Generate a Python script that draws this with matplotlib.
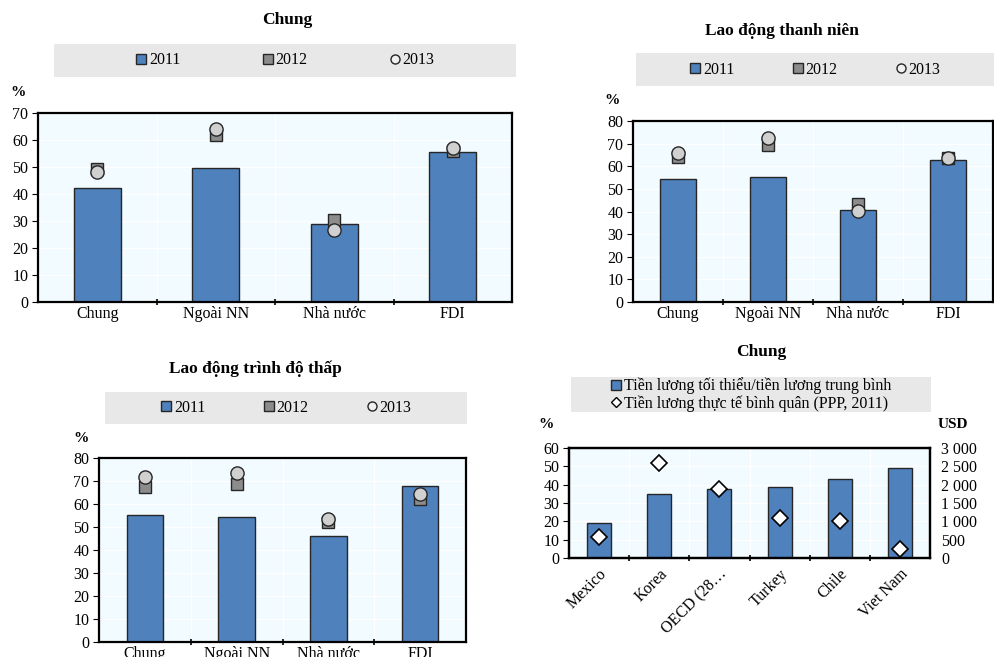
import matplotlib
matplotlib.use("Agg")
import matplotlib.pyplot as plt
from matplotlib.patches import Rectangle
from matplotlib.lines import Line2D
from matplotlib.ticker import FuncFormatter
import numpy as np

plt.rcParams['font.family'] = ['Liberation Serif', 'DejaVu Serif']

categories = ['Chung', 'Ngoài NN', 'Nhà nước', 'FDI']
chung2011 = [42.2, 49.6, 28.9, 55.4]
chung2012 = [49.2, 61.7, 30.4, 56.0]
chung2013 = [48.0, 64.0, 26.6, 57.2]
thanhNien2011 = [54.2, 55.1, 40.6, 62.9]
thanhNien2012 = [64.2, 69.4, 43.2, 63.8]
thanhNien2013 = [65.7, 72.6, 40.4, 63.6]
trinhDoThap2011 = [55.1, 54.4, 46.3, 67.9]
trinhDoThap2012 = [67.6, 68.8, 52.0, 62.1]
trinhDoThap2013 = [71.7, 73.5, 53.4, 64.4]

countries = ['Mexico', 'Korea', 'OECD (28…', 'Turkey', 'Chile', 'Viet Nam']
minToAvg = [19.2, 34.7, 37.8, 38.5, 43.0, 49.2]
realWagePPP = [570, 2585, 1870, 1100, 1020, 235]

years = ['2011', '2012', '2013']

W, H = 994, 657
barColor = '#4F81BD'
edgeColor = '#262626'
axBg = '#F2FBFF'
boxColor = '#E8E8E8'
tickSize = 11.5
titleSize = 12.5

fig = plt.figure(figsize=(W / 100, H / 100), dpi=100)


def pxAxes(x0, y0, x1, y1):
    return fig.add_axes([x0 / W, 1 - y1 / H, (x1 - x0) / W, (y1 - y0) / H])


def pxBox(x0, y0, x1, y1):
    fig.patches.append(Rectangle((x0 / W, 1 - y1 / H), (x1 - x0) / W,
                                 (y1 - y0) / H, transform=fig.transFigure,
                                 facecolor=boxColor, edgecolor='none',
                                 zorder=0))
    return ((x0 + x1) / 2 / W, 1 - (y0 + y1) / 2 / H)


def styleAxes(ax, n, ymax, step):
    ax.set_facecolor(axBg)
    ax.set_xlim(-0.5, n - 0.5)
    ax.set_ylim(0, ymax)
    ax.set_yticks(np.arange(0, ymax + 1, step))
    for y in np.arange(step, ymax, step):
        ax.axhline(y, color='white', lw=1, zorder=0)
    for x in np.arange(0.5, n - 0.5, 1):
        ax.axvline(x, color='white', lw=1, zorder=0)
    ax.set_xticks(range(n))
    ax.set_xticks(np.arange(0.5, n - 0.5, 1), minor=True)
    ax.tick_params(axis='x', which='major', length=0, labelsize=tickSize,
                   pad=3)
    ax.tick_params(axis='x', which='minor', length=5, direction='inout',
                   width=1.2)
    ax.tick_params(axis='y', length=4, direction='out', labelsize=tickSize,
                   pad=3)
    for s in ax.spines.values():
        s.set_linewidth(1.6)
        s.set_color('black')


def yearPanel(box, legendBox, colSpace, title, titleXY, pctXY,
              v11, v12, v13, ymax):
    ax = pxAxes(*box)
    styleAxes(ax, len(categories), ymax, 10)
    x = np.arange(len(categories))
    ax.bar(x, v11, 0.4, color=barColor, edgecolor=edgeColor, lw=1, zorder=2)
    ax.plot(x, v12, 's', ms=9, mfc='#8C8C8C', mec=edgeColor, mew=1,
            zorder=3)
    ax.plot(x, v13, 'o', ms=9.5, mfc='#D0D0D0', mec=edgeColor, mew=1,
            zorder=4)
    ax.set_xticklabels(categories)
    fig.text(titleXY[0] / W, 1 - titleXY[1] / H, title, ha='center',
             va='center', fontsize=titleSize, fontweight='bold')
    fig.text(pctXY[0] / W, 1 - pctXY[1] / H, '%', ha='center',
             va='center', fontsize=11, fontweight='bold')
    center = pxBox(*legendBox)
    handles = [Line2D([], [], ls='none', marker='s', ms=7, mfc=barColor,
                      mec=edgeColor),
               Line2D([], [], ls='none', marker='s', ms=7, mfc='#8C8C8C',
                      mec=edgeColor),
               Line2D([], [], ls='none', marker='o', ms=6.5, mfc='#F0F0F0',
                      mec=edgeColor)]
    fig.legend(handles, years, loc='center', bbox_to_anchor=center,
               ncol=3, frameon=False, fontsize=11.5, handlelength=0.7,
               handletextpad=0.15, columnspacing=colSpace, borderpad=0)
    return ax


yearPanel((38, 113, 512, 302), (54, 44, 516, 77), 5.1, 'Chung', (287, 20),
          (18, 92), chung2011, chung2012, chung2013, 70)
yearPanel((633, 121, 993, 302), (636, 53, 994, 86), 3.6,
          'Lao động thanh niên', (782, 31), (612, 100),
          thanhNien2011, thanhNien2012, thanhNien2013, 80)
yearPanel((99, 458, 466, 642), (105, 392, 467, 424), 3.6,
          'Lao động trình độ thấp', (255, 369), (81, 438),
          trinhDoThap2011, trinhDoThap2012, trinhDoThap2013, 80)

# so sánh quốc tế: tỷ lệ lương tối thiểu và lương thực tế
ax = pxAxes(569, 448, 930, 558)
styleAxes(ax, len(countries), 60, 10)
xc = np.arange(len(countries))
ax.bar(xc, minToAvg, 0.4, color=barColor, edgecolor=edgeColor, lw=1,
       zorder=2)
ax.set_xticklabels(countries, rotation=45, ha='right', rotation_mode='anchor')
ax.tick_params(axis='x', which='major', pad=6)
ax2 = ax.twinx()
ax2.set_ylim(0, 3000)
ax2.set_yticks(range(0, 3001, 500))
ax2.yaxis.set_major_formatter(
    FuncFormatter(lambda v, p: '{:,}'.format(int(v)).replace(',', ' ')))
ax2.tick_params(axis='y', length=0, labelsize=tickSize, pad=8)
ax2.plot(xc, realWagePPP, 'D', ms=8, mfc='white', mec='black', mew=1.2,
         zorder=4)
for s in ax2.spines.values():
    s.set_linewidth(1.6)
fig.text(761 / W, 1 - 352 / H, 'Chung', ha='center', va='center',
         fontsize=titleSize, fontweight='bold')
fig.text(546 / W, 1 - 424 / H, '%', ha='center', va='center', fontsize=11,
         fontweight='bold')
fig.text(953 / W, 1 - 424 / H, 'USD', ha='center', va='center',
         fontsize=11, fontweight='bold')
center = pxBox(571, 377, 931, 412)
brHandles = [Line2D([], [], ls='none', marker='s', ms=7, mfc=barColor,
                    mec=edgeColor),
             Line2D([], [], ls='none', marker='D', ms=5.5, mfc='white',
                    mec='black')]
fig.legend(brHandles, ['Tiền lương tối thiểu/tiền lương trung bình',
                       'Tiền lương thực tế bình quân (PPP, 2011)'],
           loc='center', bbox_to_anchor=center, ncol=1, frameon=False,
           fontsize=11.5, handlelength=0.7, handletextpad=0.15,
           labelspacing=0.05, borderpad=0)

plt.savefig('out.png', dpi=100)
